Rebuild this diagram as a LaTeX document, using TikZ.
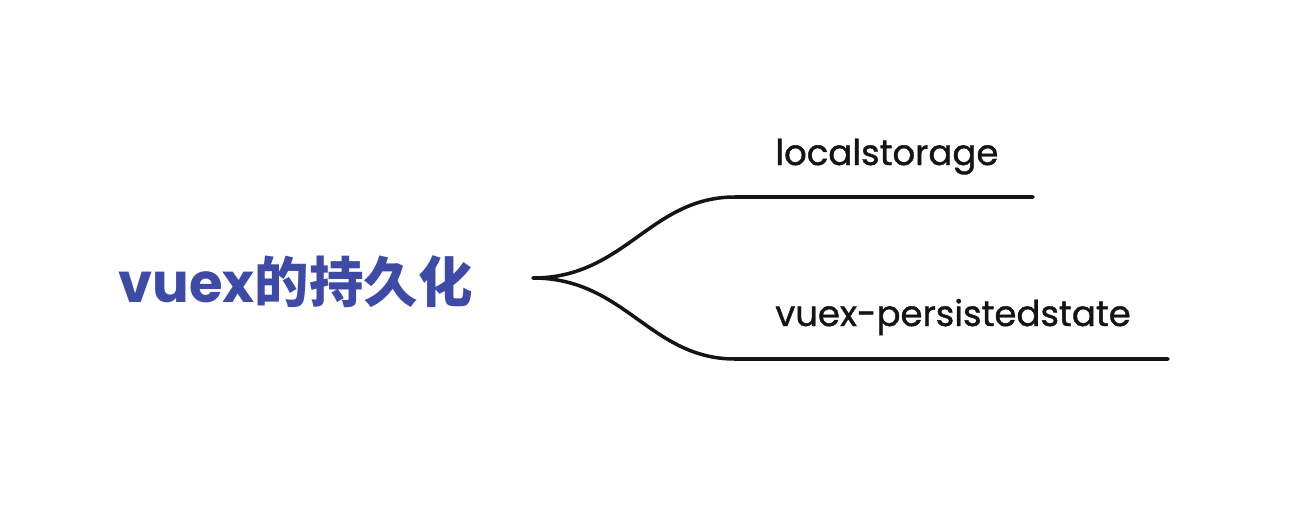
\documentclass[tikz,border=0pt]{standalone}
\usepackage{fontspec}
\setmainfont{Poppins}
\newfontfamily\cjkfont{Noto Sans CJK SC}
\usetikzlibrary{positioning}
\definecolor{rootblue}{HTML}{3D4BA6}
\definecolor{inkblack}{HTML}{141414}
\tikzset{
  rootlabel/.style={font=\fontsize{31}{36}\selectfont\bfseries, text=rootblue, inner sep=0pt},
  leaflabel/.style={font=\fontsize{20.2}{24}\selectfont\addfontfeature{FakeBold=1.2}, text=inkblack, inner sep=0pt, anchor=base west},
  branch/.style={line width=2pt, draw=inkblack, line cap=round}
}

\begin{document}
\begin{tikzpicture}[x=0.02cm, y=-0.02cm]
  \useasboundingbox (0,0) rectangle (1300,524);
  % root
  \node[rootlabel, anchor=base west] (root) at (118,302) {vuex{\cjkfont\bfseries 的持久化}};
  \coordinate (hub) at (533,278);
  % branch ends
  \coordinate (topknee) at (735,197);
  \coordinate (topend) at (1033,197);
  \coordinate (lowknee) at (735,359);
  \coordinate (lowend) at (1168,359);
  % leaves
  \node[leaflabel] (local) at (775,165) {localstorage};
  \node[leaflabel] (persist) at (775,326) {vuex-persistedstate};
  % connectors
  \draw[branch] (hub) .. controls (625,278) and (650,197) .. (topknee) -- (topend);
  \draw[branch] (hub) .. controls (625,278) and (650,359) .. (lowknee) -- (lowend);
\end{tikzpicture}
\end{document}
